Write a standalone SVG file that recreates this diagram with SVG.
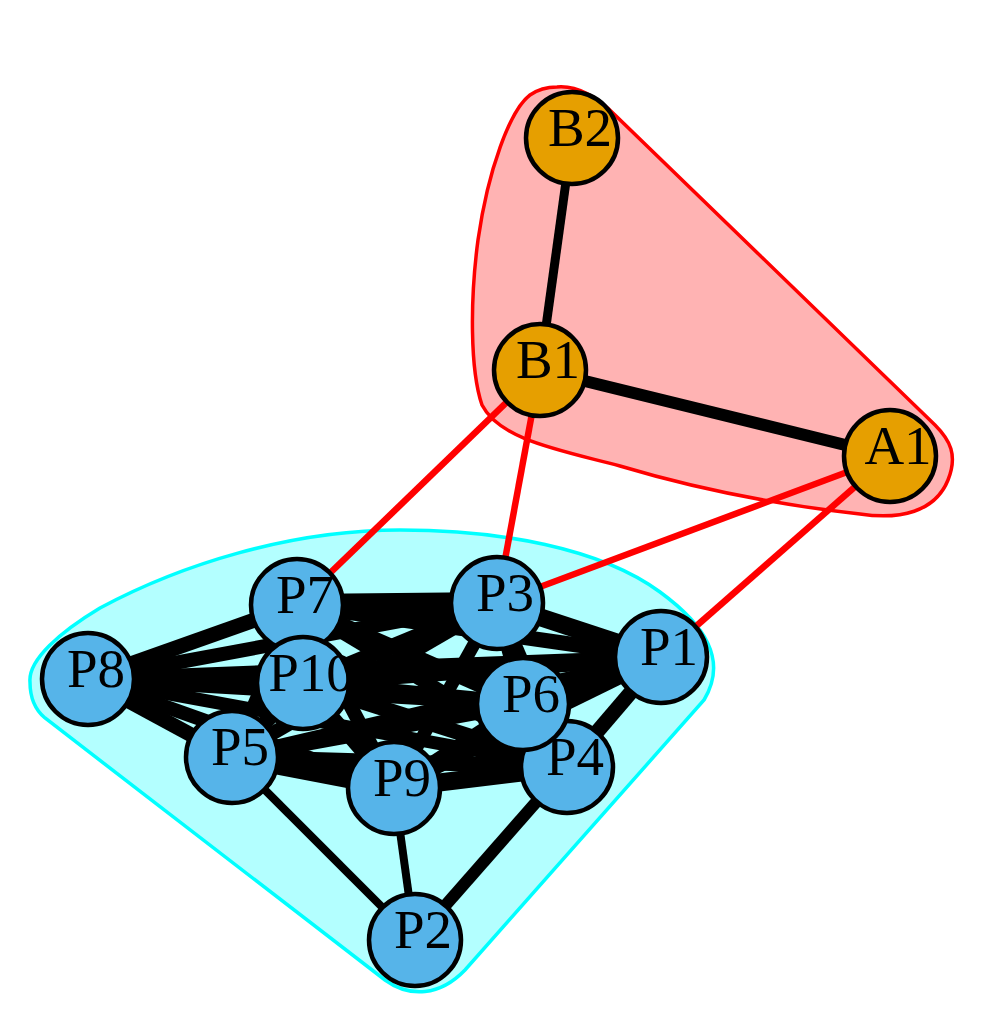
<svg xmlns="http://www.w3.org/2000/svg" width="996" height="1026" viewBox="0 0 996 1026">
<style>
.hull-a{fill:#FFB3B3;stroke:#FF0000;stroke-width:3.5}
.hull-p{fill:#B3FFFF;stroke:#00FFFF;stroke-width:3.5}
.e{stroke:#000;stroke-linecap:butt;fill:none}
.r{stroke:#FF0000;stroke-width:6.5;fill:none}
.np{fill:#56B4E9;stroke:#000;stroke-width:4.5}
.no{fill:#E69F00;stroke:#000;stroke-width:4.5}
text{font-family:"Liberation Serif","Times New Roman",serif;font-size:55px;text-anchor:middle;fill:#000}
</style>
<rect width="996" height="1026" fill="#fff"/>
<g id="hulls">
<path class="hull-a" d="M557,87 C580,85 600,100 615,115 L935,425 C950,440 958,455 948,480 C935,512 900,520 860,514 C780,505 700,490 620,466 C560,450 500,440 482,405 C470,370 470,300 478,240 C488,170 510,110 530,95 C540,88 550,87 557,87 Z"/>
<path class="hull-p" d="M30,682 C28,660 60,632 100,608 C180,565 290,530 400,530 C500,530 600,548 660,592 C705,625 728,660 704,700 L465,970 C440,996 410,998 385,980 L45,718 C33,708 30,695 30,682 Z"/>
</g>
<g id="connectors">
<line class="e" stroke-width="9" x1="572" y1="138" x2="540" y2="370"/>
<line class="e" stroke-width="12" x1="540" y1="370" x2="890" y2="456"/>
<line class="r" x1="540" y1="370" x2="297" y2="605"/>
<line class="r" x1="540" y1="370" x2="497" y2="603"/>
<line class="r" x1="890" y1="456" x2="497" y2="603"/>
<line class="r" x1="890" y1="456" x2="661" y2="657"/>
<line class="e" stroke-width="15" x1="88" y1="679" x2="297" y2="605"/>
<line class="e" stroke-width="14" x1="88" y1="679" x2="497" y2="603"/>
<line class="e" stroke-width="14" x1="88" y1="679" x2="661" y2="657"/>
<line class="e" stroke-width="17" x1="88" y1="679" x2="303" y2="683"/>
<line class="e" stroke-width="14" x1="88" y1="679" x2="523" y2="704"/>
<line class="e" stroke-width="13" x1="88" y1="679" x2="567" y2="767"/>
<line class="e" stroke-width="14" x1="88" y1="679" x2="394" y2="788"/>
<line class="e" stroke-width="15" x1="88" y1="679" x2="232" y2="757"/>
<line class="e" stroke-width="22" x1="297" y1="605" x2="497" y2="603"/>
<line class="e" stroke-width="15" x1="297" y1="605" x2="661" y2="657"/>
<line class="e" stroke-width="15" x1="297" y1="605" x2="303" y2="683"/>
<line class="e" stroke-width="15" x1="297" y1="605" x2="523" y2="704"/>
<line class="e" stroke-width="14" x1="297" y1="605" x2="567" y2="767"/>
<line class="e" stroke-width="14" x1="297" y1="605" x2="394" y2="788"/>
<line class="e" stroke-width="14" x1="297" y1="605" x2="232" y2="757"/>
<line class="e" stroke-width="18" x1="497" y1="603" x2="661" y2="657"/>
<line class="e" stroke-width="15" x1="497" y1="603" x2="303" y2="683"/>
<line class="e" stroke-width="15" x1="497" y1="603" x2="523" y2="704"/>
<line class="e" stroke-width="14" x1="497" y1="603" x2="567" y2="767"/>
<line class="e" stroke-width="13" x1="497" y1="603" x2="394" y2="788"/>
<line class="e" stroke-width="14" x1="497" y1="603" x2="232" y2="757"/>
<line class="e" stroke-width="16" x1="661" y1="657" x2="303" y2="683"/>
<line class="e" stroke-width="18" x1="661" y1="657" x2="523" y2="704"/>
<line class="e" stroke-width="15" x1="661" y1="657" x2="567" y2="767"/>
<line class="e" stroke-width="14" x1="661" y1="657" x2="394" y2="788"/>
<line class="e" stroke-width="14" x1="661" y1="657" x2="232" y2="757"/>
<line class="e" stroke-width="16" x1="303" y1="683" x2="523" y2="704"/>
<line class="e" stroke-width="15" x1="303" y1="683" x2="567" y2="767"/>
<line class="e" stroke-width="14" x1="303" y1="683" x2="394" y2="788"/>
<line class="e" stroke-width="15" x1="303" y1="683" x2="232" y2="757"/>
<line class="e" stroke-width="15" x1="523" y1="704" x2="567" y2="767"/>
<line class="e" stroke-width="14" x1="523" y1="704" x2="394" y2="788"/>
<line class="e" stroke-width="15" x1="523" y1="704" x2="232" y2="757"/>
<line class="e" stroke-width="18" x1="567" y1="767" x2="394" y2="788"/>
<line class="e" stroke-width="15" x1="567" y1="767" x2="232" y2="757"/>
<line class="e" stroke-width="18" x1="394" y1="788" x2="232" y2="757"/>
<line class="e" stroke-width="8" x1="415" y1="940" x2="232" y2="757"/>
<line class="e" stroke-width="8" x1="415" y1="940" x2="394" y2="788"/>
<line class="e" stroke-width="12" x1="415" y1="940" x2="567" y2="767"/>
</g>
<g id="P1"><circle class="np" cx="661" cy="657" r="46"/><text x="669" y="665">P1</text></g>
<g id="P2"><circle class="np" cx="415" cy="940" r="46"/><text x="423" y="948">P2</text></g>
<g id="P3"><circle class="np" cx="497" cy="603" r="46"/><text x="505" y="611">P3</text></g>
<g id="P4"><circle class="np" cx="567" cy="767" r="46"/><text x="575" y="775">P4</text></g>
<g id="P5"><circle class="np" cx="232" cy="757" r="46"/><text x="240" y="765">P5</text></g>
<g id="P6"><circle class="np" cx="523" cy="704" r="46"/><text x="531" y="712">P6</text></g>
<g id="P7"><circle class="np" cx="297" cy="605" r="46"/><text x="305" y="613">P7</text></g>
<g id="P8"><circle class="np" cx="88" cy="679" r="46"/><text x="96" y="687">P8</text></g>
<g id="P9"><circle class="np" cx="394" cy="788" r="46"/><text x="402" y="796">P9</text></g>
<g id="P10"><circle class="np" cx="303" cy="683" r="46"/><text x="311" y="691">P10</text></g>
<g id="A1"><circle class="no" cx="890" cy="456" r="46"/><text x="898" y="464">A1</text></g>
<g id="B1"><circle class="no" cx="540" cy="370" r="46"/><text x="548" y="378">B1</text></g>
<g id="B2"><circle class="no" cx="572" cy="138" r="46"/><text x="580" y="146">B2</text></g>
</svg>
